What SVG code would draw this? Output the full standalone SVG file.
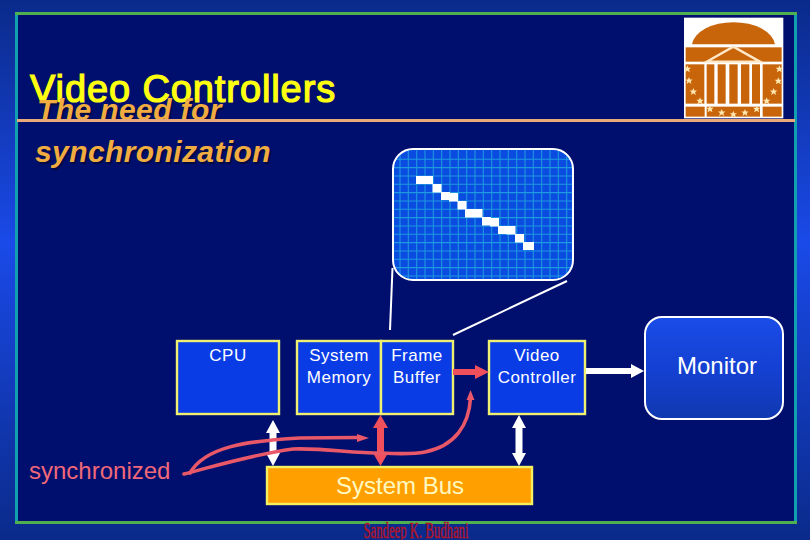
<svg xmlns="http://www.w3.org/2000/svg" width="810" height="540" viewBox="0 0 810 540">
<style>
text{font-family:"Liberation Sans",Arial,sans-serif}
.box{fill:#0a3ce6;stroke:#f0f070;stroke-width:2.4}
.lbl{fill:#fff;font-size:17px;letter-spacing:.5px;text-anchor:middle}
.sub{fill:#f0ac40;font-size:30px;font-weight:bold;font-style:italic;letter-spacing:.4px;text-shadow:1.5px 1.5px 1px #000a40}
.wh{fill:#fff}.rd{fill:#f0505c}
.cv{fill:none;stroke:#e85868;stroke-width:3.6;stroke-linecap:round}
.ln{stroke:#fff;stroke-width:2;fill:none}
.px{fill:#fff}
.lg{fill:#c8650a}
.st{fill:#ffe8b0}
</style>
<defs>
<linearGradient id="bg" x1="0" y1="0" x2="0" y2="1">
<stop offset="0" stop-color="#0a2a8a"/><stop offset=".45" stop-color="#1a4ae8"/><stop offset="1" stop-color="#0a2a8a"/>
</linearGradient>
<linearGradient id="mon" x1="0" y1="0" x2="0" y2="1">
<stop offset="0" stop-color="#1a4ce8"/><stop offset=".55" stop-color="#1440d0"/><stop offset="1" stop-color="#1038b0"/>
</linearGradient>
<clipPath id="fv"><rect x="393" y="149" width="180" height="131" rx="20"/></clipPath>
<polygon id="star" points="0,-11 3,-3.500 11,-3.500 5,1.500 7.500,10 0,5 -7.500,10 -5,1.500 -11,-3.500 -3,-3.500"/>
</defs>
<rect width="810" height="540" fill="url(#bg)"/>
<rect x="17" y="14" width="778" height="508" fill="#000f6e"/>
<path d="M15 13.500H797M15 522.500H797" stroke="#50b050" stroke-width="3" fill="none"/>
<path d="M16.500 15V521M795.500 15V521" stroke="#10a0b0" stroke-width="3" fill="none"/>

<g id="logo" transform="translate(670,5) scale(.3333)">
<rect x="42" y="38" width="298" height="302" fill="#fff"/>
<path class="lg" d="M66,118A125,73 0 0 1 315,118Z"/>
<rect class="lg" x="47" y="127" width="288" height="43"/>
<polygon class="lg" points="110,170 190,125 270,170" stroke="#ffe8c8" stroke-width="7"/>
<rect class="lg" x="47" y="178" width="56" height="118"/>
<rect class="lg" x="278" y="178" width="57" height="118"/>
<rect class="lg" x="110" y="178" width="23" height="118"/>
<rect class="lg" x="143" y="178" width="24" height="118"/>
<rect class="lg" x="178" y="178" width="25" height="118"/>
<rect class="lg" x="213" y="178" width="25" height="118"/>
<rect class="lg" x="246" y="178" width="24" height="118"/>
<rect class="lg" x="47" y="305" width="57" height="30"/>
<rect class="lg" x="110" y="305" width="160" height="30"/>
<rect class="lg" x="278" y="305" width="57" height="30"/>
<g class="st">
<use href="#star" x="52" y="192"/><use href="#star" x="57" y="227"/><use href="#star" x="70" y="260"/><use href="#star" x="90" y="288"/><use href="#star" x="120" y="312"/><use href="#star" x="155" y="323"/><use href="#star" x="190" y="328"/><use href="#star" x="225" y="323"/><use href="#star" x="260" y="312"/><use href="#star" x="290" y="288"/><use href="#star" x="311" y="260"/><use href="#star" x="325" y="228"/><use href="#star" x="328" y="192"/>
</g>
</g>

<g id="title">
<text x="30" y="102" font-size="38" letter-spacing=".9" stroke="#ffff10" stroke-width="1.200" fill="#ffff10">Video Controllers</text>
</g>
<g id="subtitle">
<text class="sub" x="37" y="120">The need for</text>
<text class="sub" x="35" y="162">synchronization</text>
</g>
<rect x="17" y="119" width="778" height="3" fill="#e8a878"/>

<g id="frame-view">
<rect x="393" y="149" width="180" height="131" rx="20" fill="#0a4ce0"/>
<g clip-path="url(#fv)">
<path fill="none" stroke="#1e98e0" stroke-width="1.100" d="M400 149V280M408.300 149V280M416.700 149V280M425 149V280M433.300 149V280M441.700 149V280M450 149V280M458.300 149V280M466.700 149V280M475 149V280M483.300 149V280M491.700 149V280M500 149V280M508.300 149V280M516.700 149V280M525 149V280M533.300 149V280M541.700 149V280M550 149V280M558.300 149V280M566.700 149V280M393 159.300H573M393 167.600H573M393 176H573M393 184.300H573M393 192.600H573M393 201H573M393 209.300H573M393 217.600H573M393 226H573M393 234.300H573M393 242.600H573M393 251H573M393 259.300H573M393 267.600H573M393 276H573"/>
</g>
<rect x="393" y="149" width="180" height="131" rx="20" fill="none" stroke="#fff" stroke-width="2"/>
<g class="px">
<rect x="416" y="176" width="17" height="8"/>
<rect x="432.500" y="184" width="9" height="8.500"/>
<rect x="441" y="192" width="9" height="8"/>
<rect x="449" y="193" width="9" height="8.500"/>
<rect x="457.500" y="201" width="9" height="8.500"/>
<rect x="465" y="209" width="9" height="8.500"/>
<rect x="473.500" y="209" width="9" height="8.500"/>
<rect x="482" y="217" width="9" height="8.500"/>
<rect x="490" y="218" width="9" height="8.500"/>
<rect x="498" y="226" width="9" height="8"/>
<rect x="506.500" y="226" width="9" height="8.500"/>
<rect x="515" y="234" width="9" height="8.500"/>
<rect x="523" y="242" width="11" height="8"/>
</g>
</g>

<g id="cpu"><rect class="box" x="177" y="341" width="102" height="73"/><text class="lbl" x="228" y="361">CPU</text></g>
<g id="system-memory"><rect class="box" x="297" y="341" width="84" height="73"/><text class="lbl" x="339" y="361">System</text><text class="lbl" x="339" y="383">Memory</text></g>
<g id="frame-buffer"><rect class="box" x="381" y="341" width="72" height="73"/><text class="lbl" x="417" y="361">Frame</text><text class="lbl" x="417" y="383">Buffer</text></g>
<g id="video-controller"><rect class="box" x="489" y="341" width="96" height="73"/><text class="lbl" x="537" y="361">Video</text><text class="lbl" x="537" y="383">Controller</text></g>
<g id="monitor"><rect x="645" y="317" width="138" height="102" rx="17" fill="url(#mon)" stroke="#fff" stroke-width="2"/><text x="717" y="374" font-size="24" fill="#fff" text-anchor="middle">Monitor</text></g>
<g id="system-bus"><rect x="267" y="467" width="265" height="37" fill="#ffa000" stroke="#f5f060" stroke-width="2.400"/><text x="400" y="494" font-size="24" fill="#fff8c0" text-anchor="middle">System Bus</text></g>
<g id="synchronized"><text x="29" y="479" font-size="24" fill="#f06878">synchronized</text></g>
<g id="credit"><text x="416" y="538" font-size="24" fill="#b01428" stroke="#b01428" stroke-width=".5" textLength="105" lengthAdjust="spacingAndGlyphs" text-anchor="middle" style="font-family:'Liberation Serif',serif">Sandeep K. Budhani</text></g>

<g id="connectors">
<path class="ln" d="M392.500,268L390,330"/>
<path class="ln" d="M567,281L453,335"/>
<polygon class="wh" points="273,420 280,433 276.500,433 276.500,453 280,453 273,466 266,453 269.500,453 269.500,433 266,433"/>
<polygon class="wh" points="519,415 526,428 522.500,428 522.500,453 526,453 519,466 512,453 515.500,453 515.500,428 512,428"/>
<polygon class="rd" points="380.500,415 388,428 384,428 384,453 388,453 380.500,466 373,453 377,453 377,428 373,428"/>
<polygon class="rd" points="453,369 475,369 475,365 489,372 475,379 475,375 453,375"/>
<polygon class="wh" points="586,368 631,368 631,364 644,371 631,378 631,374 586,374"/>
<path class="cv" d="M190,473C205,447 245,441 300,438L358,437.500"/>
<polygon fill="#e85868" points="369,438 357,434 357,442"/>
<path class="cv" d="M184,474C215,466 250,455 293,449C325,448 350,453 381,453C400,454 415,454 425,452C455,446 469,425 470.500,398"/>
<polygon fill="#e85868" points="470.500,390 466.500,400 474.500,400"/>
</g>
</svg>
